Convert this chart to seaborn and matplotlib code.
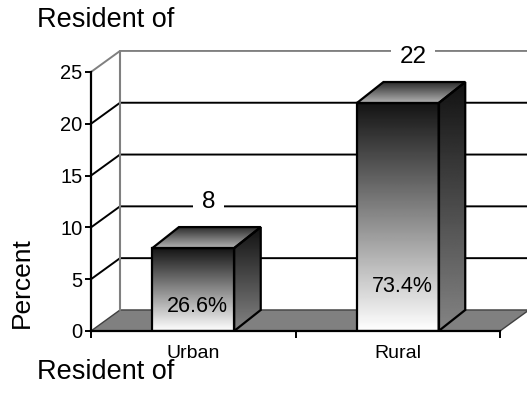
import numpy as np
import matplotlib.pyplot as plt
from matplotlib.patches import Polygon
import seaborn as sns

# data
categories = ["Urban", "Rural"]
values = [8, 22]
shares = ["26.6%", "73.4%"]
y_ticks = [0, 5, 10, 15, 20, 25]

sns.set_style("white")
plt.rcParams['font.family'] = ['Liberation Sans', 'DejaVu Sans']
plt.rcParams['text.color'] = 'black'
plt.rcParams['xtick.color'] = 'black'
plt.rcParams['ytick.color'] = 'black'

fig = plt.figure(figsize=(5.27, 4.01), dpi=100)
ax = fig.add_axes([91/527, 70/401, 436/527, 281/401])

XMAX = 1.632
YMAX = 27.12
DX, DY = 0.142, 2.03      # depth of the back wall
BDX = 0.13                # depth of the bars

# floor
floor = Polygon([(-0.5, 0), (1.5, 0), (1.5 + DX, DY), (-0.5 + DX, DY)],
                closed=True, facecolor="#808080", edgecolor="#404040", lw=1.0, zorder=1)
ax.add_patch(floor)

# gridlines on the side and back wall
for t in y_ticks[1:]:
    c = "#808080" if t == y_ticks[-1] else "black"
    ax.plot([-0.5, -0.5 + DX, XMAX + 0.1], [t, t + DY, t + DY], color=c, lw=1.4, zorder=1.5,
            solid_capstyle="butt")
ax.plot([-0.5 + DX, -0.5 + DX], [DY, y_ticks[-1] + DY], color="#808080", lw=1.5, zorder=1.5)

# front faces
sns.barplot(x=categories, y=values, ax=ax, width=0.4, color="white",
            edgecolor="black", linewidth=1.6, zorder=5)

front_grad = np.linspace(0.08, 1.0, 256).reshape(-1, 1)
side_grad = np.linspace(0.07, 0.52, 256).reshape(-1, 1)
top_grad = np.linspace(0.15, 0.7, 64).reshape(-1, 1)

bars = ax.patches[1:]
for bar, val in zip(bars, values):
    x0, w, h = bar.get_x(), bar.get_width(), bar.get_height()
    bar.set_facecolor("none")
    im = ax.imshow(front_grad[::-1], cmap="gray", vmin=0, vmax=1, aspect="auto",
                   extent=[x0, x0 + w, 0, h], origin="lower", zorder=4)
    im.set_clip_path(bar)

    side = Polygon([(x0 + w, 0), (x0 + w + BDX, DY), (x0 + w + BDX, h + DY), (x0 + w, h)],
                   closed=True, facecolor="none", edgecolor="black", lw=1.6, zorder=5)
    ax.add_patch(side)
    im = ax.imshow(side_grad[::-1], cmap="gray", vmin=0, vmax=1, aspect="auto",
                   extent=[x0 + w, x0 + w + BDX, 0, h + DY], origin="lower", zorder=4)
    im.set_clip_path(side)

    top = Polygon([(x0, h), (x0 + w, h), (x0 + w + BDX, h + DY), (x0 + BDX, h + DY)],
                  closed=True, facecolor="none", edgecolor="black", lw=1.6, zorder=5)
    ax.add_patch(top)
    im = ax.imshow(top_grad, cmap="gray", vmin=0, vmax=1, aspect="auto",
                   extent=[x0, x0 + w + BDX, h, h + DY], origin="upper", zorder=4)
    im.set_clip_path(top)

    # value above the bar
    ax.text(x0 + w / 2 + BDX / 2 + 0.01, h + DY + 2.4, f"{val:g}", ha="center", va="center",
            fontsize=17.5, zorder=6,
            bbox=dict(boxstyle="square,pad=0.35", facecolor="white", edgecolor="none"))

# percentage labels inside the front faces
for bar, share, yl in zip(bars[:2], shares, [2.4, 4.3]):
    x0, w = bar.get_x(), bar.get_width()
    ax.text(x0 + w - 0.03, yl, share, ha="right", va="center", fontsize=15.5, zorder=6)

ax.set_xlim(-0.5, XMAX)
ax.set_ylim(0, YMAX)

for s in ["top", "right"]:
    ax.spines[s].set_visible(False)
ax.spines["left"].set_bounds(0, y_ticks[-1])
ax.spines["bottom"].set_bounds(-0.5, 1.5)
for s in ["left", "bottom"]:
    ax.spines[s].set_color("black")
    ax.spines[s].set_linewidth(1.6)
    ax.spines[s].set_zorder(6)

ax.set_yticks(y_ticks)
ax.set_xticks([0, 1])
ax.set_xticklabels(categories)
ax.set_xticks([-0.5, 0.5, 1.5], minor=True)
ax.tick_params(axis="y", direction="out", length=4, width=1.4, labelsize=14.5, pad=2,
               left=True)
ax.tick_params(axis="x", which="major", length=0, labelsize=14, pad=10)
ax.tick_params(axis="x", which="minor", direction="out", length=5, width=1.4, bottom=True)
ax.set_xlabel("")
ax.set_ylabel("")

fig.text(37/527, 1 - 20/401, "Resident of", fontsize=19.5, ha="left", va="center")
fig.text(37/527, 1 - 372/401, "Resident of", fontsize=19.5, ha="left", va="center")
fig.text(22/527, 1 - 283/401, "Percent", fontsize=19, rotation=90, ha="center", va="center")

fig.savefig("out.png", dpi=100)
